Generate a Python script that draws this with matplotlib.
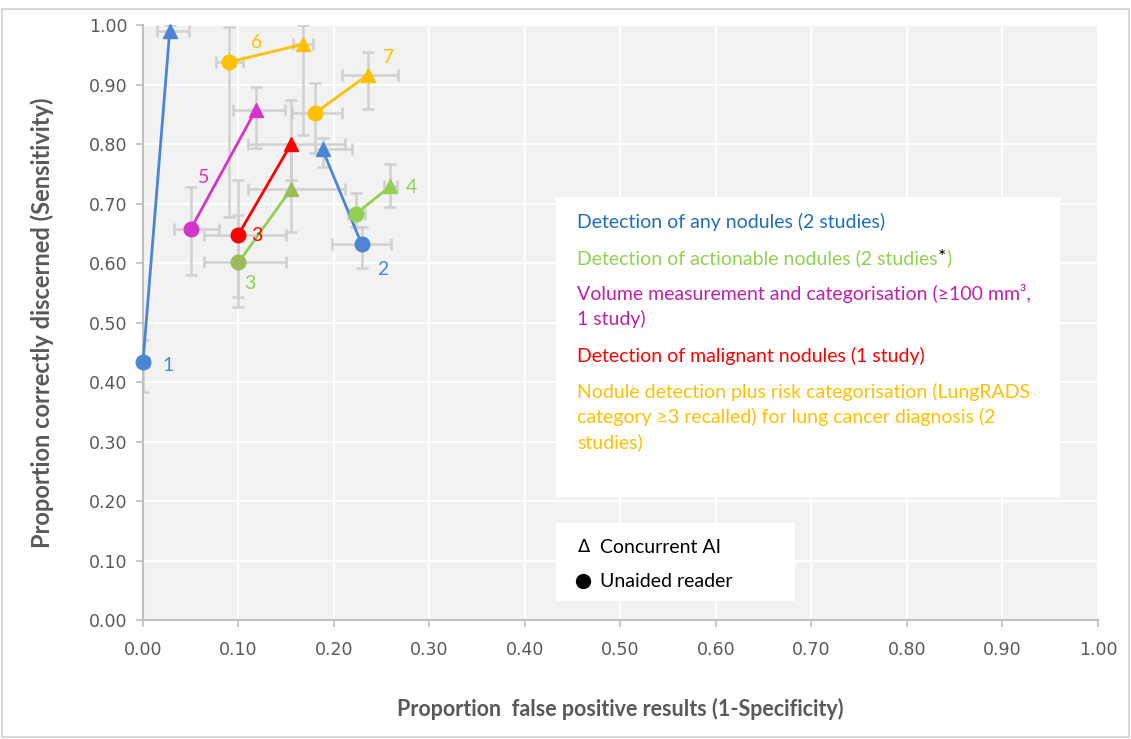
import numpy as np
import matplotlib.pyplot as plt
from matplotlib.patches import Rectangle

# data (one entry per study)
study_labels = ['1', '2', '3', '4', '5', '3', '6', '7']
study_colors = ['#4a86d4', '#4a86d4', '#92d050', '#92d050', '#d433cc', '#ff0000', '#ffc000', '#ffc000']
ai_marker_colors = ['#4a86d4', '#4a86d4', '#9bbb59', '#92d050', '#d433cc', '#ff0000', '#ffc000', '#ffc000']
dot_marker_colors = ['#4a86d4', '#4a86d4', '#9bbb59', '#92d050', '#d433cc', '#ff0000', '#ffc000', '#ffc000']

unaided_fpr = [0.000, 0.229, 0.100, 0.223, 0.050, 0.100, 0.090, 0.180]
unaided_sens = [0.433, 0.632, 0.601, 0.683, 0.657, 0.648, 0.938, 0.852]
unaided_fpr_lo = [0.000, 0.198, 0.064, 0.215, 0.032, 0.064, 0.076, 0.156]
unaided_fpr_hi = [0.006, 0.260, 0.150, 0.232, 0.080, 0.150, 0.105, 0.208]
unaided_sens_lo = [0.383, 0.592, 0.526, 0.660, 0.580, 0.543, 0.677, 0.785]
unaided_sens_hi = [0.470, 0.660, 0.680, 0.718, 0.728, 0.739, 0.997, 0.902]

ai_fpr = [0.028, 0.188, 0.155, 0.259, 0.118, 0.155, 0.168, 0.236]
ai_sens = [0.990, 0.791, 0.724, 0.729, 0.857, 0.800, 0.968, 0.917]
ai_fpr_lo = [0.015, 0.180, 0.110, 0.252, 0.094, 0.110, 0.157, 0.208]
ai_fpr_hi = [0.048, 0.219, 0.212, 0.266, 0.149, 0.212, 0.178, 0.267]
ai_sens_lo = [0.980, 0.761, 0.652, 0.694, 0.793, 0.740, 0.815, 0.859]
ai_sens_hi = [1.000, 0.810, 0.800, 0.766, 0.896, 0.874, 1.000, 0.955]

legend_lines = [
    ('Detection of any nodules (2 studies)', '#1f6fbf'),
    ('Detection of actionable nodules (2 studies', '#92d050'),
    ('Volume measurement and categorisation (\u2265100 mm\u00b3,\n1 study)', '#c020b0'),
    ('Detection of malignant nodules (1 study)', '#ff0000'),
    ('Nodule detection plus risk categorisation (LungRADS\ncategory \u22653 recalled) for lung cancer diagnosis (2\nstudies)', '#ffc000'),
]

# label offsets in points, relative to the unaided marker
label_offsets = [(18, -2), (15, -18), (8, -15), (40, 19), (9, 37), (13, -1), (20, 14), (53, 40)]

ticks = np.arange(0, 1.01, 0.1)
tick_labels = ['%.2f' % t for t in ticks]

fig = plt.figure(figsize=(11.31, 7.39), dpi=100)
fig.patches.append(Rectangle((0.002, 0.003), 0.996, 0.985, transform=fig.transFigure,
                             fill=False, edgecolor='#d9d9d9', linewidth=1.5))
ax = fig.add_axes([0.1264, 0.161, 0.8444, 0.805])
ax.set_facecolor('#f2f2f2')
ax.set_xlim(0, 1)
ax.set_ylim(0, 1)
ax.set_xticks(ticks)
ax.set_yticks(ticks)
narrow = ['Liberation Sans Narrow', 'DejaVu Sans']
ax.set_xticklabels(tick_labels, family=narrow, fontsize=12.5, color='#595959')
ax.set_yticklabels(tick_labels, family=narrow, fontsize=12.5, color='#595959')
ax.grid(True, color='white', linewidth=1.5)
ax.set_axisbelow(True)
for s in ['top', 'right']:
    ax.spines[s].set_visible(False)
for s in ['left', 'bottom']:
    ax.spines[s].set_color('#bfbfbf')
    ax.spines[s].set_linewidth(1.5)
ax.tick_params(colors='#bfbfbf', labelcolor='#595959', length=5, width=1.2)
ax.tick_params(axis='x', pad=10)
ax.tick_params(axis='y', pad=6)

ax.set_xlabel('Proportion  false positive results (1-Specificity)', family='Lato',
              fontsize=15.5, fontweight='bold', color='#595959', labelpad=28)
ax.set_ylabel('Proportion correctly discerned (Sensitivity)', family='Lato',
              fontsize=17, fontweight='bold', color='#595959', labelpad=25)

err_kw = dict(fmt='none', ecolor='#d0d0d0', elinewidth=1.8, capsize=4, capthick=1.8, zorder=2)
for i in range(len(study_labels)):
    ax.errorbar(unaided_fpr[i], unaided_sens[i],
                xerr=[[unaided_fpr[i] - unaided_fpr_lo[i]], [unaided_fpr_hi[i] - unaided_fpr[i]]],
                yerr=[[unaided_sens[i] - unaided_sens_lo[i]], [unaided_sens_hi[i] - unaided_sens[i]]],
                **err_kw)
    ax.errorbar(ai_fpr[i], ai_sens[i],
                xerr=[[ai_fpr[i] - ai_fpr_lo[i]], [ai_fpr_hi[i] - ai_fpr[i]]],
                yerr=[[ai_sens[i] - ai_sens_lo[i]], [ai_sens_hi[i] - ai_sens[i]]],
                **err_kw)

for i in range(len(study_labels)):
    ax.plot([unaided_fpr[i], ai_fpr[i]], [unaided_sens[i], ai_sens[i]],
            color=study_colors[i], linewidth=2, zorder=3, clip_on=False)
    ax.plot(unaided_fpr[i], unaided_sens[i], 'o', color=dot_marker_colors[i],
            markersize=10.5, zorder=4, clip_on=False)
    ax.plot(ai_fpr[i], ai_sens[i], '^', color=ai_marker_colors[i],
            markersize=10.5, zorder=4, clip_on=False)
    ax.annotate(study_labels[i], (unaided_fpr[i], unaided_sens[i]),
                xytext=label_offsets[i], textcoords='offset points',
                ha='center', va='center', fontsize=14, family='Lato',
                color=study_colors[i], zorder=5)

# text boxes
ax.add_patch(Rectangle((0.432, 0.207), 0.528, 0.504, facecolor='white', edgecolor='none', zorder=1.5))
ax.add_patch(Rectangle((0.432, 0.032), 0.251, 0.131, facecolor='white', edgecolor='none', zorder=1.5))

ys = [0.684, 0.624, 0.565, 0.459, 0.398]
legend_texts = []
for (txt, col), y in zip(legend_lines, ys):
    legend_texts.append(ax.text(0.455, y, txt, color=col, fontsize=14, family='Lato',
                                va='top', ha='left', linespacing=1.45, zorder=6))
# asterisk and closing bracket for the actionable nodules line
t2 = ax.annotate('*', xy=(1, 1), xycoords=legend_texts[1], ha='left', va='top',
                 color='black', fontsize=14, family='Lato', zorder=6)
ax.annotate(')', xy=(1, 1), xycoords=t2, ha='left', va='top',
            color='#92d050', fontsize=14, family='Lato', zorder=6)

ax.text(0.455, 0.122, '\u0394', fontsize=13, family='DejaVu Sans', va='center', ha='left', zorder=6)
ax.text(0.479, 0.122, 'Concurrent AI', fontsize=14, family='Lato', va='center', ha='left', zorder=6)
ax.plot(0.461, 0.065, 'o', color='black', markersize=10, zorder=6)
ax.text(0.479, 0.065, 'Unaided reader', fontsize=14, family='Lato', va='center', ha='left', zorder=6)

fig.savefig('out.png', dpi=100)
